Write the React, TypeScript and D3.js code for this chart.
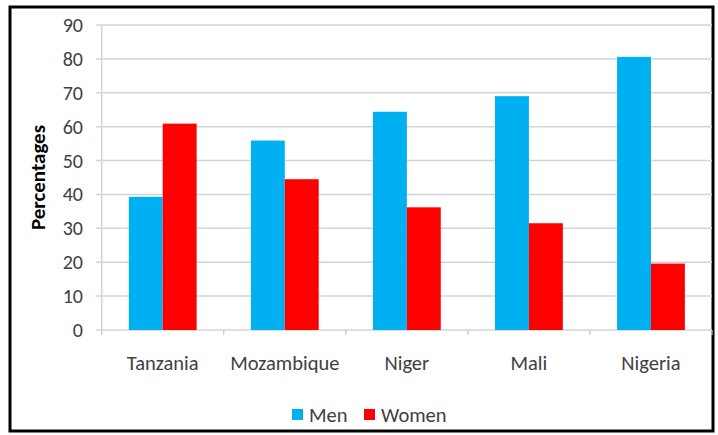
import React from "react";
import * as d3 from "d3";

const categories = ["Tanzania", "Mozambique", "Niger", "Mali", "Nigeria"];
const seriesNames = ["Men", "Women"];
const menValues = [39.3, 55.9, 64.4, 69.0, 80.6];
const womenValues = [60.9, 44.5, 36.2, 31.5, 19.6];
const yTicks = [0, 10, 20, 30, 40, 50, 60, 70, 80, 90];
const colors = ["#00b0f0", "#ff0000"];

const W = 718;
const H = 435;
const FONT = "Carlito, Lato, 'Open Sans', sans-serif";

export default function App() {
  const left = 101.7;
  const right = 712;
  const top = 25;
  const bottom = 330;

  const x = d3.scaleBand<string>().domain(categories).range([left, right]).paddingInner(0).paddingOuter(0);
  const inner = d3.scaleBand<string>().domain(seriesNames).range([0, x.bandwidth()]).paddingOuter(0.8).paddingInner(0);
  const y = d3.scaleLinear().domain([0, 90]).range([bottom, top]);
  const series = [menValues, womenValues];

  return (
    <svg width={W} height={H} style={{ position: "absolute", left: 0, top: 0, background: "#fff" }}>
      <rect x={10} y={7} width={703} height={424} fill="#fff" stroke="#000" strokeWidth={3} />
      {yTicks.map((t) => (
        <g key={t}>
          <line x1={96} x2={right} y1={y(t)} y2={y(t)} stroke="#d4d4d4" strokeWidth={1.5} />
          <text x={83} y={y(t)} dy="0.35em" textAnchor="end" fontFamily={FONT} fontSize={20} fill="#404040">
            {t}
          </text>
        </g>
      ))}
      <line x1={left} x2={left} y1={top} y2={bottom} stroke="#d4d4d4" strokeWidth={1.5} />
      {categories.map((c, i) => (
        <line key={"t" + i} x1={(x(c) as number) + x.bandwidth()} x2={(x(c) as number) + x.bandwidth()} y1={bottom} y2={bottom + 5} stroke="#c8c8c8" strokeWidth={1.2} />
      ))}
      <line x1={left} x2={left} y1={bottom} y2={bottom + 5} stroke="#c8c8c8" strokeWidth={1.2} />
      {categories.map((c, i) => (
        <g key={c}>
          {seriesNames.map((s, j) => (
            <rect
              key={s}
              x={(x(c) as number) + (inner(s) as number)}
              y={y(series[j][i])}
              width={inner.bandwidth()}
              height={y(0) - y(series[j][i])}
              fill={colors[j]}
            />
          ))}
          <text x={(x(c) as number) + x.bandwidth() / 2} y={362.5} dy="0.35em" textAnchor="middle" fontFamily={FONT} fontSize={20.5} fill="#404040">
            {c}
          </text>
        </g>
      ))}
      <text transform={`translate(38,${(top + bottom) / 2}) rotate(-90)`} textAnchor="middle" dy="0.35em" fontFamily={FONT} fontSize={21} fontWeight="bold" fill="#000">
        Percentages
      </text>
      {seriesNames.map((s, j) => {
        const lx = [292, 364][j];
        return (
          <g key={"l" + s}>
            <rect x={lx} y={409} width={11} height={11} fill={colors[j]} />
            <text x={lx + 17} y={414.5} dy="0.35em" fontFamily={FONT} fontSize={20.5} fill="#404040">
              {s}
            </text>
          </g>
        );
      })}
    </svg>
  );
}
